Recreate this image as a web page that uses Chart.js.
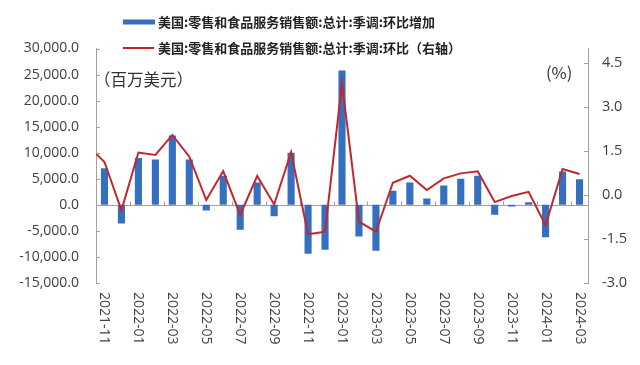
<!DOCTYPE html>
<html>
<head>
<meta charset="utf-8">
<script src="https://cdn.jsdelivr.net/npm/chart.js@4"></script>
<style>
html,body{margin:0;padding:0;background:#fff;}
canvas{display:block;}
</style>
</head>
<body>
<canvas id="c" width="640" height="365"></canvas>
<script>
// Categories (first one only feeds the line segment entering from the left edge)
const categories = ['2021-10','2021-11','2021-12','2022-01','2022-02','2022-03','2022-04','2022-05','2022-06','2022-07','2022-08','2022-09','2022-10','2022-11','2022-12','2023-01','2023-02','2023-03','2023-04','2023-05','2023-06','2023-07','2023-08','2023-09','2023-10','2023-11','2023-12','2024-01','2024-02','2024-03'];
const firstVisible = '2021-11';
// Series: retail & food services sales MoM change (USD mn)
const changeValues = [null,7000,-3600,9000,8700,13300,8700,-1100,5600,-4800,4300,-2200,10000,-9400,-8600,25800,-6100,-8800,2700,4300,1200,3700,5000,5600,-1900,-300,500,-6200,6400,4900];
// Series: MoM % (right axis)
const pctValues = [1.7,1.13,-0.52,1.45,1.37,2.05,1.31,-0.17,0.82,-0.68,0.65,-0.32,1.46,-1.34,-1.25,3.82,-0.91,-1.25,0.42,0.66,0.17,0.57,0.74,0.81,-0.24,-0.03,0.11,-1.03,0.89,0.72];
// Tick labels
const leftTicks = [-15000,-10000,-5000,0,5000,10000,15000,20000,25000,30000];
const rightTicks = [-3.0,-1.5,0.0,1.5,3.0,4.5];
const xTickLabels = ['2021-11','2022-01','2022-03','2022-05','2022-07','2022-09','2022-11','2023-01','2023-03','2023-05','2023-07','2023-09','2023-11','2024-01','2024-03'];
const seriesNames = ['美国:零售和食品服务销售额:总计:季调:环比增加','美国:零售和食品服务销售额:总计:季调:环比（右轴）'];
const leftUnit = '（百万美元）';
const rightUnit = '(%)';

const BLUE = '#3570c0';
const RED = '#c0282d';
const AXIS = '#a0a0a0';
const TXT = '#404040';
const NUMFONT = '"Open Sans", "Noto Sans", sans-serif';
const CJKFONT = '"Noto Sans CJK SC", sans-serif';

const deco = {
  id: 'deco',
  beforeDatasetsDraw(chart) {
    const {ctx, chartArea: a, scales: {x, y}} = chart;
    ctx.save();
    ctx.strokeStyle = AXIS;
    ctx.lineWidth = 1;
    const y0 = Math.round(y.getPixelForValue(0)) + 0.5;
    ctx.beginPath();
    ctx.moveTo(a.left, y0); ctx.lineTo(a.right, y0);
    // x tick marks at boundaries before labelled months
    xTickLabels.forEach((lab, i) => {
      if (i === 0) return;
      const idx = categories.indexOf(lab);
      const bx = Math.round((x.getPixelForValue(idx - 1) + x.getPixelForValue(idx)) / 2) + 0.5;
      ctx.moveTo(bx, y0); ctx.lineTo(bx, y0 - 4);
    });
    ctx.stroke();
    ctx.restore();
  },
  afterDraw(chart) {
    const {ctx, chartArea: a, scales: {x, y, y1}} = chart;
    ctx.save();
    // inward tick marks on value axes
    ctx.strokeStyle = AXIS; ctx.lineWidth = 1;
    ctx.beginPath();
    leftTicks.forEach(v => {
      const py = Math.round(y.getPixelForValue(v)) + 0.5;
      ctx.moveTo(a.left, py); ctx.lineTo(a.left + 4, py);
    });
    rightTicks.forEach(v => {
      const py = Math.round(y1.getPixelForValue(v)) + 0.5;
      ctx.moveTo(a.right, py); ctx.lineTo(a.right - 4, py);
    });
    ctx.stroke();
    // rotated x labels
    ctx.fillStyle = TXT;
    ctx.font = '14px ' + NUMFONT;
    ctx.textAlign = 'left';
    ctx.textBaseline = 'middle';
    xTickLabels.forEach(lab => {
      const px = x.getPixelForValue(categories.indexOf(lab));
      ctx.save();
      ctx.translate(px, 292);
      ctx.rotate(Math.PI / 2);
      ctx.fillText(lab, 0, 0);
      ctx.restore();
    });
    // legend
    ctx.fillStyle = BLUE;
    ctx.fillRect(123, 19.5, 32, 5);
    ctx.strokeStyle = RED; ctx.lineWidth = 2;
    ctx.beginPath(); ctx.moveTo(123, 48); ctx.lineTo(154, 48); ctx.stroke();
    ctx.fillStyle = '#222';
    ctx.font = 'bold 13px ' + CJKFONT;
    ctx.textAlign = 'left';
    ctx.fillText(seriesNames[0], 158, 22);
    ctx.fillText(seriesNames[1], 158, 48);
    // unit annotations
    ctx.fillStyle = '#333';
    ctx.font = '16.5px ' + CJKFONT;
    ctx.fillText(leftUnit, 94, 80);
    ctx.fillText(rightUnit, 546, 73);
    ctx.restore();
  }
};

new Chart(document.getElementById('c'), {
  data: {
    labels: categories,
    datasets: [
      {
        type: 'line', label: seriesNames[1], data: pctValues, yAxisID: 'y1',
        borderColor: RED, borderWidth: 2, pointRadius: 0, tension: 0, order: 1, fill: false
      },
      {
        type: 'bar', label: seriesNames[0], data: changeValues, yAxisID: 'y',
        backgroundColor: BLUE, barPercentage: 0.42, categoryPercentage: 1, order: 2
      }
    ]
  },
  options: {
    responsive: false,
    animation: false,
    devicePixelRatio: 1,
    layout: { padding: { top: 48.5, left: 0, right: 0, bottom: 0 } },
    plugins: { legend: { display: false }, tooltip: { enabled: false } },
    scales: {
      x: {
        type: 'category', min: firstVisible, offset: true,
        grid: { display: false, drawTicks: false },
        border: { display: false },
        ticks: { display: false },
        afterFit(s) { s.height = 82; }
      },
      y: {
        position: 'left', min: -15000, max: 30000,
        grid: { display: false, drawTicks: false },
        border: { display: true, color: AXIS, width: 1 },
        afterBuildTicks(s) { s.ticks = leftTicks.map(v => ({ value: v })); },
        ticks: {
          padding: 17, color: TXT, font: { family: NUMFONT, size: 14 },
          callback: v => Number(v).toLocaleString('en-US', { minimumFractionDigits: 1, maximumFractionDigits: 1 })
        },
        afterFit(s) { s.width = 96; }
      },
      y1: {
        position: 'right', min: -3, max: 5,
        grid: { display: false, drawTicks: false },
        border: { display: true, color: AXIS, width: 1 },
        afterBuildTicks(s) { s.ticks = rightTicks.map(v => ({ value: v })); },
        ticks: {
          padding: 14, color: TXT, font: { family: NUMFONT, size: 14.5 },
          callback: v => Number(v).toFixed(1)
        },
        afterFit(s) { s.width = 52; }
      }
    }
  },
  plugins: [deco]
});
</script>
</body>
</html>
